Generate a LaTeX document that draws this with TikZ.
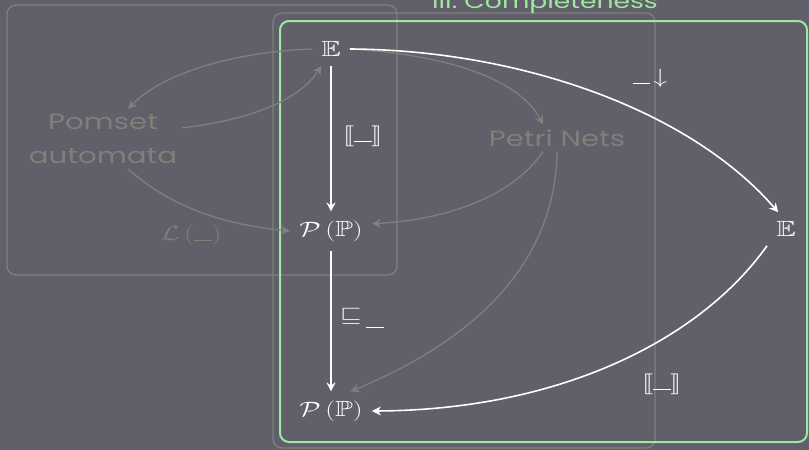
\documentclass[tikz,border=0pt]{standalone}
\usepackage{fontspec}
\usepackage{amssymb}
\usepackage{stmaryrd}
\usepackage{graphicx}
\usetikzlibrary{arrows.meta}
\newfontfamily\hand{Poppins}
\definecolor{bgc}{RGB}{96,95,106}
\definecolor{fgray}{RGB}{128,128,122}
\definecolor{lgreen}{RGB}{160,232,160}
\newcommand\sx[1]{\scalebox{1.33}[1]{#1}}
\newcommand\blank{\rule[-1.2pt]{0.6em}{1.1pt}}
\begin{document}
\begin{tikzpicture}[x=1pt,y=-1pt,
  every node/.style={inner sep=0pt},
  mw/.style={text=white, font=\fontsize{22}{26}\selectfont},
  mg/.style={text=fgray, font=\fontsize{22}{26}\selectfont},
  hw/.style={text=fgray, font=\hand\fontsize{22}{34}\selectfont, align=center},
  obj/.style={mw, inner sep=9pt},
  tip/.style={-{Stealth[length=9pt,width=9pt,inset=3pt]}},
  wa/.style={draw=white, line width=1.6pt, tip},
  ga/.style={draw=fgray, line width=1.3pt, tip},
  gbox/.style={draw=fgray, line width=1.3pt, rounded corners=9pt},
]
\fill[bgc] (0,0) rectangle (809,450);
\useasboundingbox (0,0) rectangle (809,450);
\clip (0,0) rectangle (809,450);

\draw[gbox] (7,5) rectangle (397,275);
\draw[gbox] (273,13) rectangle (655,448);
\draw[draw=lgreen, line width=2pt, rounded corners=9pt] (280,21) rectangle (807,442);

\node[text=lgreen, font=\hand\fontsize{20}{24}\selectfont, anchor=base] (title) at (545,8) {\sx{III. Completeness}};

\node[obj] (E1) at (331,49) {\sx{$\mathbb{E}$}};
\node[obj] (P1) at (331,231) {\sx{$\mathcal{P}\left(\mathbb{P}\right)$}};
\node[obj] (P2) at (331,411) {\sx{$\mathcal{P}\left(\mathbb{P}\right)$}};
\node[obj] (Er) at (786,229) {\sx{$\mathbb{E}$}};
\node[hw, inner sep=5pt] (pom) at (103,139) {\sx{Pomset}\\\sx{automata}};
\node[hw, inner sep=5pt] (petri) at (557,138) {\sx{Petri Nets}};

\node[mw] (l1) at (363,136) {\sx{$\llbracket\blank\rrbracket$}};
\node[mw] (l2) at (362,318) {\sx{$\mathord{\sqsubseteq}\,\rule[-7pt]{0.6em}{1.1pt}$}};
\node[mw] (l3) at (650,78) {\sx{$\blank\!\downarrow$}};
\node[mw] (l4) at (662,384) {\sx{$\llbracket\blank\rrbracket$}};
\node[mg] (l5) at (191,235) {\sx{$\mathcal{L}\left(\blank\right)$}};

\draw[ga] (E1.west) .. controls (230,52) and (160,75) .. (pom.50);
\draw[ga] (pom.8) .. controls (250,120) and (300,100) .. (E1.240);
\draw[ga] (pom.-50) .. controls (180,215) and (240,226) .. (P1.west);
\draw[ga] (E1.east) .. controls (450,55) and (520,80) .. ([xshift=-14pt]petri.north);
\draw[ga] ([xshift=-14pt]petri.south) .. controls (510,200) and (440,220) .. (P1.10);
\draw[ga] (petri.south) .. controls (555,280) and (450,350) .. (P2.45);

\draw[wa] (E1) -- (P1);
\draw[wa] (P1) -- (P2);
\draw[wa] (E1.east) .. controls (520,50) and (690,110) .. (Er.115);
\draw[wa] (Er.south west) .. controls (700,340) and (560,410) .. (P2.east);
\end{tikzpicture}
\end{document}
